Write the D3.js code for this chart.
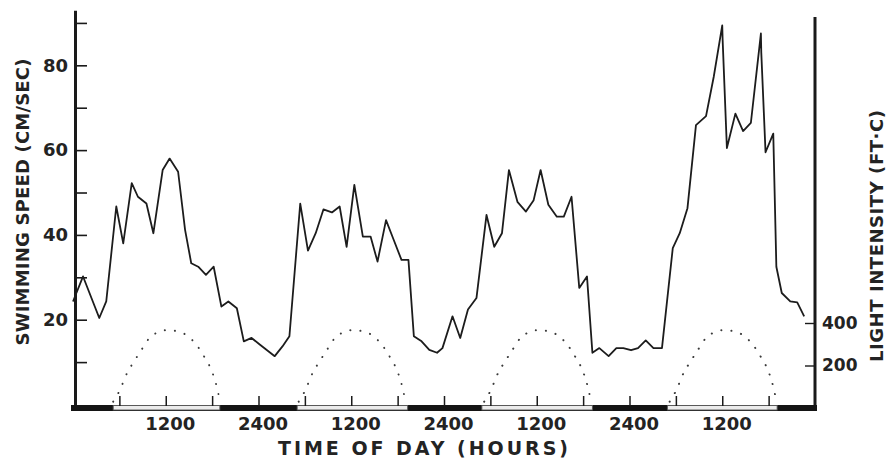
<!DOCTYPE html>
<html>
<head>
<meta charset="utf-8">
<script src="https://cdn.jsdelivr.net/npm/d3@7"></script>
<style>
  body { margin: 0; background: #fff; }
  text { font-family: "DejaVu Sans", sans-serif; font-weight: bold; fill: #232323; }
</style>
</head>
<body>
<svg id="chart"></svg>
<script>
// hours since 0000 of the first day, and swimming speed (cm/sec)
const speedHours = [0.0, 1.3, 3.4, 4.3, 5.6, 6.5, 7.6, 8.4, 9.5, 10.4, 11.6, 12.5, 13.6, 14.5, 15.3, 16.2,
  17.2, 18.2, 19.2, 20.1, 21.2, 22.1, 23.1, 24.2, 26.1, 27.1, 28.0, 29.4, 30.4, 31.4, 32.4, 33.5,
  34.5, 35.4, 36.4, 37.5, 38.5, 39.4, 40.5, 41.5, 42.5, 43.4, 44.1, 45.1, 46.1, 47.1, 47.8, 49.1,
  50.1, 51.1, 52.2, 53.5, 54.5, 55.5, 56.4, 57.5, 58.6, 59.6, 60.5, 61.5, 62.6, 63.5, 64.5, 65.5,
  66.5, 67.2, 68.1, 69.3, 70.3, 71.2, 72.2, 73.1, 74.1, 75.1, 76.2, 77.6, 78.5, 79.5, 80.6, 81.9,
  82.9, 84.0, 84.05, 84.6, 85.7, 86.7, 87.7, 88.6, 89.0, 89.05, 89.6, 90.6, 91.0, 91.7, 92.8, 93.7, 94.6];
const speedValues = [24.3, 30.2, 20.4, 24.3, 46.7, 38.0, 52.2, 49.0, 47.4, 40.4, 55.3, 58.0, 54.9, 41.2, 33.3, 32.5,
  30.6, 32.5, 23.1, 24.3, 22.7, 14.9, 15.7, 14.1, 11.4, 13.7, 16.1, 47.4, 36.3, 40.4, 46.0, 45.3,
  46.7, 37.2, 51.8, 39.6, 39.6, 33.7, 43.5, 38.8, 34.1, 34.1, 16.1, 14.9, 12.9, 12.2, 13.3, 20.8,
  15.7, 22.4, 25.1, 44.7, 37.2, 40.4, 55.3, 47.8, 45.5, 48.2, 55.3, 47.1, 44.3, 44.3, 49.0, 27.5,
  30.2, 12.2, 13.3, 11.4, 13.3, 13.3, 12.8, 13.3, 15.1, 13.3, 13.3, 36.9, 40.4, 46.3, 65.9, 68.0,
  77.3, 89.4, 86.0, 60.5, 68.6, 64.5, 66.4, 81.0, 87.5, 83.0, 59.5, 63.9, 32.5, 26.3, 24.3, 24.1, 20.8];

// light intensity (ft-c) through one day, repeated on each of the four days
const lightHours = [5.2, 6, 7, 8, 9, 10, 11, 12, 13, 14, 15, 16, 17, 18, 18.6, 19];
const lightValues = [30, 80, 165, 225, 282, 334, 356, 366, 364, 356, 334, 296, 240, 170, 100, 35];
const dayStarts = [0, 24, 48, 72];

// lights on / off (hours) shown on the time bar
const lightOn = [5.2, 29.0, 52.9, 76.9];
const lightOff = [19.0, 43.3, 67.2, 91.1];

const timeTicks = [6, 12, 18, 24, 30, 36, 42, 48, 54, 60, 66, 72, 78, 84, 90];
const timeLabels = {12: "1200", 24: "2400", 36: "1200", 48: "2400", 60: "1200", 72: "2400", 84: "1200"};
const speedTicks = [10, 20, 30, 40, 50, 60, 70, 80, 90];
const speedLabels = [20, 40, 60, 80];
const lightTicks = [200, 400];

const width = 895, height = 464;
const svg = d3.select("#chart").attr("width", width).attr("height", height);

const x = d3.scaleLinear().domain([0, 96]).range([73, 815]);
const y = d3.scaleLinear().domain([0, 93]).range([404.5, 10.2]);
const yLight = d3.scaleLinear().domain([0, 400]).range([408, 323]);
const barY = 408;

// left axis (speed)
const leftAxis = svg.append("g")
  .attr("transform", "translate(75,0)")
  .call(d3.axisLeft(y)
    .tickValues(speedTicks)
    .tickSizeInner(-12)
    .tickSizeOuter(0)
    .tickPadding(7)
    .tickFormat(d => speedLabels.includes(d) ? d : ""));
leftAxis.select(".domain").attr("stroke", "#1a1a1a").attr("stroke-width", 3);
leftAxis.selectAll(".tick line").attr("stroke", "#1a1a1a").attr("stroke-width", 1.6);
leftAxis.selectAll(".tick text").attr("font-size", 18).attr("fill", "#232323")
  .attr("font-family", "DejaVu Sans").attr("font-weight", "bold");

// right axis (light)
svg.append("line")
  .attr("x1", 815).attr("x2", 815)
  .attr("y1", barY + 3).attr("y2", 17)
  .attr("stroke", "#1a1a1a").attr("stroke-width", 3);
const rightAxis = svg.append("g")
  .attr("transform", "translate(815,0)")
  .call(d3.axisRight(yLight)
    .tickValues(lightTicks)
    .tickSizeInner(-10)
    .tickSizeOuter(0)
    .tickPadding(7));
rightAxis.select(".domain").remove();
rightAxis.selectAll(".tick line").attr("stroke", "#1a1a1a").attr("stroke-width", 1.4);
rightAxis.selectAll(".tick text").attr("font-size", 17).attr("fill", "#232323")
  .attr("font-family", "DejaVu Sans").attr("font-weight", "bold");

// time bar: dark nights, light days
svg.append("rect")
  .attr("x", x(0) - 2).attr("y", barY - 3)
  .attr("width", x(96) - x(0) + 4).attr("height", 6)
  .attr("fill", "#141414");
svg.selectAll(".day")
  .data(lightOn)
  .enter()
  .append("rect")
  .attr("class", "day")
  .attr("x", (d, i) => x(d))
  .attr("y", barY - 2.5)
  .attr("width", (d, i) => x(lightOff[i]) - x(d))
  .attr("height", 4.5)
  .attr("fill", "#ececec")
  .attr("stroke", "#555")
  .attr("stroke-width", 0.9);

// bottom axis ticks and labels
const bottomAxis = svg.append("g")
  .attr("transform", `translate(0,${barY - 2})`)
  .call(d3.axisBottom(x)
    .tickValues(timeTicks)
    .tickSizeInner(-10)
    .tickSizeOuter(0)
    .tickPadding(11)
    .tickFormat(d => timeLabels[d] || ""));
bottomAxis.select(".domain").remove();
bottomAxis.selectAll(".tick line").attr("stroke", "#1a1a1a").attr("stroke-width", 1.5);
bottomAxis.selectAll(".tick text").attr("font-size", 18).attr("dx", 4).attr("fill", "#232323")
  .attr("font-family", "DejaVu Sans").attr("font-weight", "bold");

// light intensity curves (dotted)
const lightLine = d3.line()
  .x(d => x(d[0]))
  .y(d => yLight(d[1]))
  .curve(d3.curveMonotoneX);
svg.selectAll(".light")
  .data(dayStarts)
  .enter()
  .append("path")
  .attr("class", "light")
  .attr("d", s => lightLine(lightHours.map((h, i) => [s + h, lightValues[i]])))
  .attr("fill", "none")
  .attr("stroke", "#3a3a3a")
  .attr("stroke-width", 2)
  .attr("stroke-linecap", "round")
  .attr("stroke-dasharray", "0.1 10");

// swimming speed line
const speedLine = d3.line()
  .x((d, i) => x(speedHours[i]))
  .y(d => y(d));
svg.append("path")
  .datum(speedValues)
  .attr("d", speedLine)
  .attr("fill", "none")
  .attr("stroke", "#1c1c1c")
  .attr("stroke-width", 1.8)
  .attr("stroke-linejoin", "round");

// axis titles
svg.append("text")
  .attr("x", 423).attr("y", 455)
  .attr("text-anchor", "middle")
  .attr("font-size", 19)
  .attr("textLength", 290)
  .attr("lengthAdjust", "spacing")
  .text("TIME OF DAY (HOURS)");

svg.append("text")
  .attr("transform", "translate(29,202) rotate(-90)")
  .attr("text-anchor", "middle")
  .attr("font-size", 18)
  .attr("textLength", 287)
  .attr("lengthAdjust", "spacing")
  .text("SWIMMING SPEED (CM/SEC)");

svg.append("text")
  .attr("transform", "translate(883,236) rotate(-90)")
  .attr("text-anchor", "middle")
  .attr("font-size", 18)
  .attr("textLength", 252)
  .attr("lengthAdjust", "spacing")
  .text("LIGHT INTENSITY (FT·C)");
</script>
</body>
</html>
